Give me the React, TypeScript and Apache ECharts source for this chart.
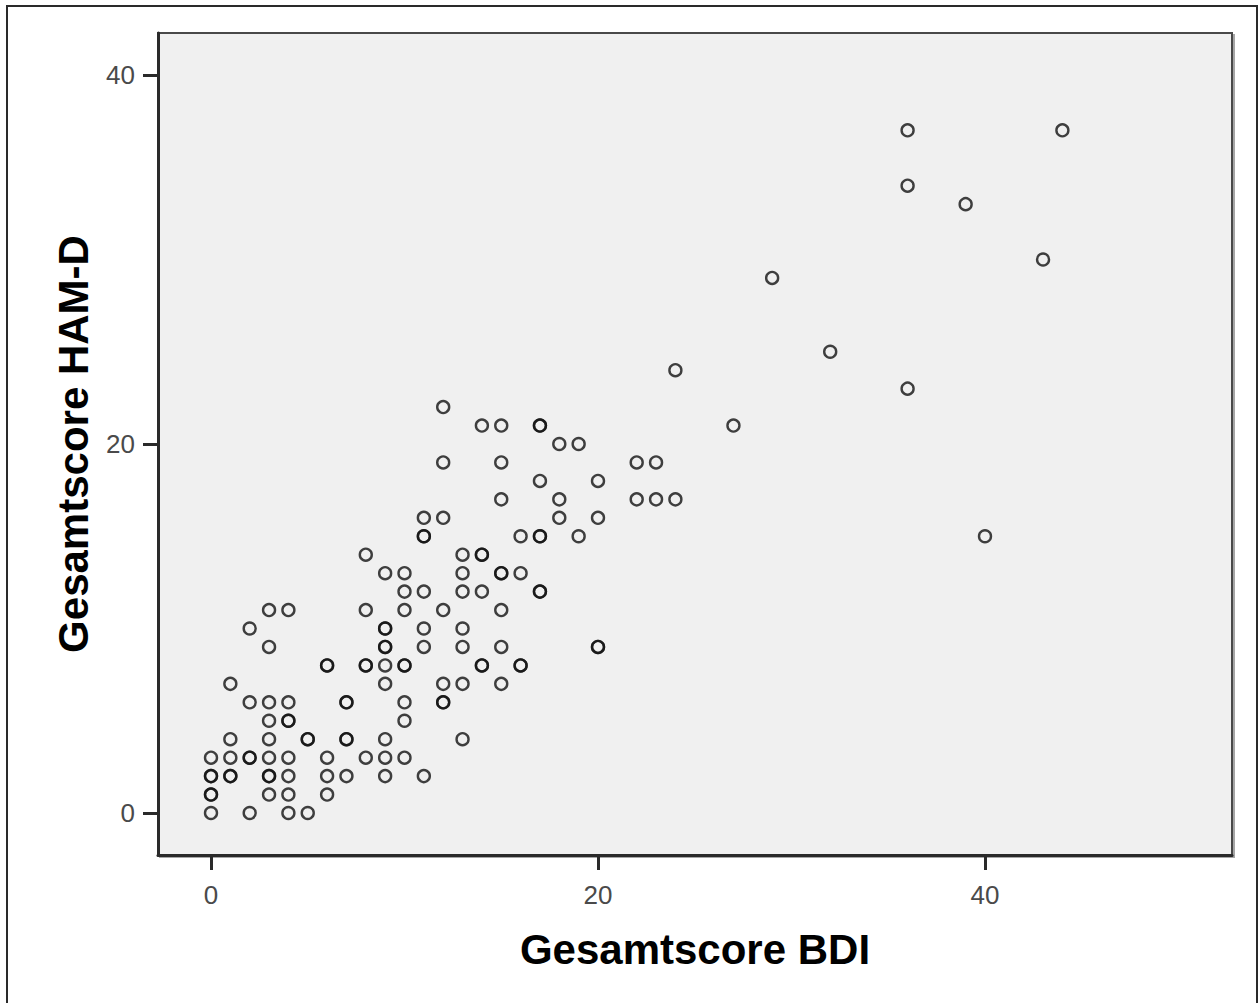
import React, { useEffect, useRef } from "react";
import * as echarts from "echarts";

// Paired observations (duplicates = overlapping points, drawn darker)
const bdiScores: number[] = [
  0, 2, 4, 5,
  0, 0, 3, 4, 6,
  0, 0, 1, 1, 3, 3, 4, 6, 7, 9, 11,
  0, 1, 2, 2, 3, 4, 6, 8, 9, 10,
  1, 3, 5, 5, 7, 7, 9, 13,
  3, 4, 4, 10,
  2, 3, 4, 7, 7, 10, 12, 12,
  1, 9, 12, 13, 15,
  6, 6, 8, 8, 9, 10, 10, 14, 14, 16, 16,
  3, 9, 9, 11, 13, 15, 20, 20,
  2, 9, 9, 11, 13,
  3, 4, 8, 10, 12, 15,
  10, 11, 13, 14, 17, 17,
  9, 10, 13, 15, 15, 16,
  8, 13, 14, 14,
  11, 11, 16, 17, 17, 19, 40,
  11, 12, 18, 20,
  15, 18, 22, 23, 24,
  17, 20,
  12, 15, 22, 23,
  18, 19,
  14, 15, 17, 17, 27,
  12,
  36,
  24,
  32,
  29,
  43,
  39,
  36,
  36, 44,
];

const hamdScores: number[] = [
  0, 0, 0, 0,
  1, 1, 1, 1, 1,
  2, 2, 2, 2, 2, 2, 2, 2, 2, 2, 2,
  3, 3, 3, 3, 3, 3, 3, 3, 3, 3,
  4, 4, 4, 4, 4, 4, 4, 4,
  5, 5, 5, 5,
  6, 6, 6, 6, 6, 6, 6, 6,
  7, 7, 7, 7, 7,
  8, 8, 8, 8, 8, 8, 8, 8, 8, 8, 8,
  9, 9, 9, 9, 9, 9, 9, 9,
  10, 10, 10, 10, 10,
  11, 11, 11, 11, 11, 11,
  12, 12, 12, 12, 12, 12,
  13, 13, 13, 13, 13, 13,
  14, 14, 14, 14,
  15, 15, 15, 15, 15, 15, 15,
  16, 16, 16, 16,
  17, 17, 17, 17, 17,
  18, 18,
  19, 19, 19, 19,
  20, 20,
  21, 21, 21, 21, 21,
  22,
  23,
  24,
  25,
  29,
  30,
  33,
  34,
  37, 37,
];

const xTicks = [0, 20, 40];
const yTicks = [0, 20, 40];
const xTitle = "Gesamtscore BDI";
const yTitle = "Gesamtscore HAM-D";

export default function App() {
  const ref = useRef<HTMLDivElement>(null);

  useEffect(() => {
    if (!ref.current) return;
    const chart = echarts.init(ref.current, undefined, { renderer: "svg" });
    const data = bdiScores.map((b, i) => [b, hamdScores[i]]);
    const titleFont = {
      fontFamily: "'Liberation Sans', Arial, sans-serif",
      fontWeight: "bold" as const,
      fontSize: 42,
      color: "#000",
    };
    const labelFont = {
      fontFamily: "'Liberation Sans Narrow', 'Liberation Sans', Arial, sans-serif",
      fontSize: 26,
      color: "#4a4a4a",
    };
    chart.setOption({
      animation: false,
      backgroundColor: "#ffffff",
      grid: {
        left: 158,
        top: 33,
        width: 1074,
        height: 822,
        show: true,
        backgroundColor: "#f0f0f0",
        borderColor: "#4a4a4a",
        borderWidth: 2,
        shadowColor: "rgba(0,0,0,0.35)",
        shadowOffsetX: 2,
        shadowOffsetY: 2,
        shadowBlur: 1,
      },
      xAxis: {
        type: "value",
        min: -2.739,
        max: 52.765,
        name: xTitle,
        nameLocation: "middle",
        nameGap: 73,
        nameTextStyle: titleFont,
        axisLine: { show: true, onZero: false, lineStyle: { color: "#2a2a2a", width: 3 } },
        axisTick: { show: true, length: 15, customValues: xTicks, lineStyle: { color: "#2a2a2a", width: 3 } },
        axisLabel: { customValues: xTicks, margin: 27, ...labelFont },
        splitLine: { show: false },
      },
      yAxis: {
        type: "value",
        min: -2.276,
        max: 42.276,
        name: yTitle,
        nameLocation: "middle",
        nameRotate: 90,
        nameGap: 64,
        nameTextStyle: titleFont,
        axisLine: { show: true, onZero: false, lineStyle: { color: "#2a2a2a", width: 3 } },
        axisTick: { show: true, length: 15, customValues: yTicks, lineStyle: { color: "#2a2a2a", width: 3 } },
        axisLabel: { customValues: yTicks, margin: 23, ...labelFont },
        splitLine: { show: false },
      },
      graphic: [
        {
          type: "rect",
          silent: true,
          z: -10,
          shape: { x: 7, y: 6, width: 1250, height: 1030 },
          style: { fill: "none", stroke: "#2a2a2a", lineWidth: 2 },
        },
      ],
      series: [
        {
          type: "scatter",
          symbol: "circle",
          symbolSize: 12,
          data,
          itemStyle: {
            color: "rgba(0,0,0,0)",
            borderColor: "#111111",
            borderWidth: 2.4,
          },
          emphasis: { disabled: true },
        },
      ],
    });
    return () => chart.dispose();
  }, []);

  return (
    <div
      ref={ref}
      style={{ position: "fixed", left: 0, top: 0, width: 1258, height: 1003 }}
    />
  );
}
